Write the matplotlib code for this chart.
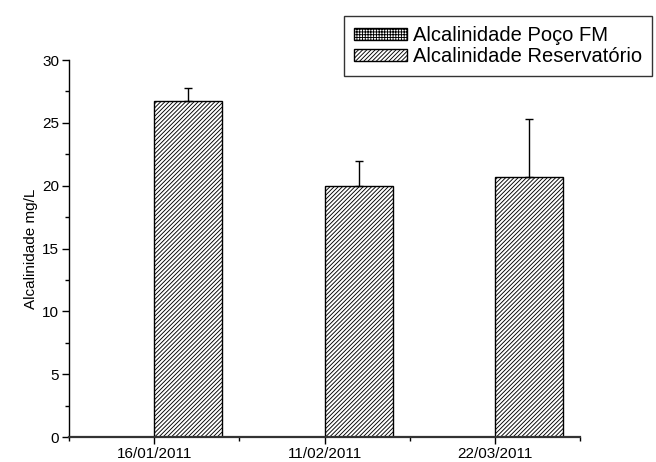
import matplotlib.pyplot as plt
from matplotlib.ticker import MultipleLocator, FixedLocator
import numpy as np

plt.rcParams['font.family'] = ['Liberation Sans', 'DejaVu Sans']
plt.rcParams['hatch.linewidth'] = 0.65

datas = ["16/01/2011", "11/02/2011", "22/03/2011"]
alc_poco = [0, 0, 0]
alc_reserv = [26.7, 20.0, 20.7]
alc_reserv_err = [1.1, 2.0, 4.6]

x = np.arange(len(datas))
w = 0.4

fig = plt.figure(figsize=(6.56, 4.62), dpi=100)
ax = fig.add_axes([0.1052, 0.0541, 0.7790, 0.8160])

b1 = ax.bar(x - w, alc_poco, width=w, align="edge", color="white",
            edgecolor="black", linewidth=1, hatch="++++++",
            label="Alcalinidade Poço FM")
b2 = ax.bar(x, alc_reserv, width=w, align="edge", color="white",
            edgecolor="black", linewidth=1, hatch="////////",
            label="Alcalinidade Reservatório")
# error bars only upwards
ax.errorbar(x + w / 2, alc_reserv, yerr=[np.zeros(3), alc_reserv_err],
            fmt="none", ecolor="black", elinewidth=1, capsize=3, capthick=1)

ax.set_xlim(-0.5, 2.5)
ax.set_ylim(0, 30)
ax.set_xticks(x)
ax.set_xticklabels(datas, fontsize=11)
ax.xaxis.set_minor_locator(FixedLocator([-0.5, 0.5, 1.5, 2.5]))
ax.yaxis.set_major_locator(MultipleLocator(5))
ax.yaxis.set_minor_locator(MultipleLocator(2.5))
ax.tick_params(axis="both", which="major", direction="out", length=5,
               width=1, labelsize=11, pad=2)
ax.tick_params(axis="both", which="minor", direction="out", length=3, width=1)
ax.set_ylabel("Alcalinidade mg/L", fontsize=11, labelpad=3)

for s in ["top", "right"]:
    ax.spines[s].set_visible(False)
ax.spines["left"].set_linewidth(1)
ax.spines["bottom"].set_linewidth(1.6)
ax.spines["bottom"].set_color("#333333")

leg = fig.legend(handles=[b1, b2], loc="upper right",
                 bbox_to_anchor=(652 / 656, 1 - 16 / 462), borderaxespad=0,
                 fontsize=14.5, frameon=True, fancybox=False,
                 handlelength=2.6, handleheight=0.5, handletextpad=0.3,
                 labelspacing=0.1, borderpad=0.5)
leg.get_frame().set_edgecolor("black")
leg.get_frame().set_linewidth(1)

plt.savefig("out.png", dpi=100)
